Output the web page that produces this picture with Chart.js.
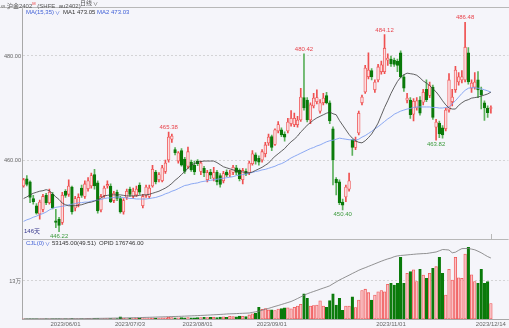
<!DOCTYPE html>
<html>
<head>
<meta charset="utf-8">
<script src="https://cdn.jsdelivr.net/npm/chart.js@4"></script>
<style>
  body { margin: 0; background: #f5f5fa; }
  #wrap { position: relative; width: 509px; height: 328px; overflow: hidden;
          font-family: "Liberation Sans", "Noto Sans CJK SC", sans-serif; font-size: 6px; }
  #wrap div { position: absolute; white-space: nowrap; line-height: 7px; }
  canvas { position: absolute; left: 0; top: 0; }
  .blue { color: #3f5fd6; }
  .dark { color: #333; }
  .arr { font-size: 5px; margin-left: 1px; }
</style>
</head>
<body>
<div id="wrap">
  <canvas id="c" width="509" height="328"></canvas>
  <div style="left:1px;top:0px;color:#555">∞ 沪金2402<sup style="color:#e33;font-size:4px">M</sup> (SHFE&nbsp; au2402)</div>
  <div style="left:80px;top:0px;color:#555">日线<span class="arr">∨</span></div>
  <div class="blue" style="left:26px;top:9px">MA(15,35)<span class="arr">∨</span></div>
  <div class="dark" style="left:63px;top:9px">MA1 473.05</div>
  <div class="blue" style="left:97px;top:9px">MA2 473.03</div>
  <div style="left:24px;top:228px;color:#35358a">146天</div>
  <div class="blue" style="left:26px;top:240px">CJL(0)<span class="arr">∨</span></div>
  <div class="dark" style="left:52px;top:240px">53145.00(49.51)</div>
  <div class="dark" style="left:99px;top:240px">OPID 176746.00</div>
</div>
<script>
// daily bars, 2023/05/15 .. 2023/12/14
const opens = [
  455.0, 456.4, 455.8, 452.6, 451.2, 449.6, 450.5, 453.2, 451.8, 453.4,
  448.3, 448.6, 448.0, 454.0, 453.4, 454.8, 450.8, 451.5, 454.6, 453.0,
  454.5, 455.0, 457.2, 455.6, 450.4, 453.2, 455.0, 455.0, 452.2, 453.8,
  452.6, 450.0, 452.8, 454.4, 453.0, 453.3, 455.2, 451.2, 453.2, 453.0,
  455.0, 457.7, 456.2, 456.0, 457.8, 460.0, 464.0, 462.0, 459.8, 461.8,
  460.2, 458.8, 459.6, 459.0, 459.8, 457.8, 458.4, 456.2, 457.7, 456.5,
  457.7, 457.0, 456.0, 457.7, 457.2, 457.6, 458.5, 458.0, 456.2, 457.8,
  457.6, 459.3, 461.0, 460.3, 460.0, 461.2, 463.3, 464.5, 463.0, 465.6,
  465.8, 465.0, 465.6, 467.0, 466.8, 466.8, 467.7, 472.0, 471.5, 467.7,
  470.4, 471.2, 469.4, 471.0, 472.4, 471.0, 466.0, 456.3, 455.8, 451.9,
  452.9, 454.4, 463.8, 462.4, 465.2, 471.0, 473.1, 476.0, 477.2, 473.5,
  475.4, 477.0, 477.0, 479.2, 479.4, 479.2, 479.0, 480.6, 476.0, 471.5,
  471.5, 468.8, 470.0, 471.5, 471.1, 473.6, 472.4, 474.0, 466.3, 467.1,
  466.2, 466.0, 469.6, 471.2, 473.5, 475.0, 475.4, 475.4, 480.6, 473.8,
  474.0, 475.4, 473.4, 471.0, 470.0, 469.9
];
const highs = [
  456.5, 457.0, 456.0, 453.2, 451.6, 452.3, 453.4, 453.6, 454.4, 453.8,
  450.5, 449.0, 453.8, 454.3, 456.2, 455.0, 453.0, 453.5, 455.2, 456.0,
  456.6, 457.5, 458.2, 456.0, 453.4, 455.0, 456.0, 455.4, 454.0, 454.2,
  453.0, 452.6, 454.4, 454.8, 454.6, 455.0, 455.6, 453.4, 455.2, 455.2,
  459.0, 458.0, 457.6, 459.0, 460.0, 465.38, 465.0, 462.4, 461.6, 462.2,
  460.5, 462.5, 460.0, 459.8, 460.1, 459.8, 458.8, 458.0, 458.2, 458.6,
  458.0, 457.4, 457.8, 458.1, 458.0, 459.0, 459.0, 458.3, 458.4, 458.3,
  459.8, 461.8, 461.4, 460.8, 462.0, 463.4, 465.0, 464.8, 466.0, 467.4,
  466.2, 465.4, 468.0, 469.5, 469.0, 468.4, 473.8, 480.42, 472.0, 471.0,
  472.8, 473.5, 471.6, 472.8, 473.0, 471.4, 466.4, 456.6, 456.2, 452.5,
  455.2, 457.5, 464.0, 464.4, 469.4, 472.5, 478.2, 480.6, 477.6, 475.4,
  478.4, 479.0, 484.12, 480.4, 480.0, 479.6, 479.4, 481.0, 476.4, 472.8,
  472.0, 471.8, 472.0, 472.2, 473.6, 475.4, 475.0, 474.4, 467.8, 467.5,
  466.6, 470.0, 476.6, 473.6, 478.0, 476.8, 477.2, 486.48, 481.6, 475.4,
  476.8, 477.0, 474.0, 471.4, 470.4, 470.4
];
const lows = [
  454.8, 455.0, 451.8, 451.5, 449.6, 448.6, 450.0, 451.4, 451.5, 450.6,
  447.0, 446.22, 447.6, 452.8, 453.0, 449.6, 450.2, 451.0, 452.8, 452.6,
  454.0, 454.6, 454.4, 449.8, 450.0, 452.8, 454.6, 451.8, 451.8, 452.2,
  449.8, 449.6, 452.4, 453.0, 452.6, 453.0, 453.4, 450.8, 452.8, 452.6,
  454.8, 455.4, 455.8, 455.8, 457.4, 459.6, 463.4, 461.0, 459.4, 458.8,
  457.4, 458.4, 457.8, 457.2, 458.9, 457.2, 456.8, 455.8, 456.4, 456.0,
  455.2, 454.8, 455.6, 456.8, 456.8, 457.2, 457.2, 456.0, 455.4, 457.0,
  457.2, 459.0, 459.2, 459.0, 459.6, 460.6, 462.8, 461.8, 462.8, 465.2,
  464.5, 463.6, 465.2, 466.5, 466.4, 466.3, 467.4, 469.6, 467.3, 467.0,
  470.0, 470.8, 469.0, 470.6, 470.8, 467.0, 455.2, 453.3, 451.4, 450.40,
  452.0, 454.0, 460.9, 462.0, 464.8, 470.6, 472.8, 475.6, 475.4, 473.0,
  475.0, 476.5, 476.6, 478.2, 478.0, 478.0, 477.0, 475.8, 473.2, 471.0,
  468.0, 467.5, 469.6, 468.6, 470.6, 471.2, 472.0, 467.8, 463.82, 464.3,
  464.2, 465.6, 469.2, 470.4, 473.0, 474.4, 474.8, 475.0, 474.6, 473.0,
  473.6, 472.0, 469.8, 467.6, 468.2, 469.0
];
const closes = [
  456.2, 455.3, 452.8, 452.0, 449.8, 451.9, 453.0, 451.8, 453.8, 450.8,
  448.0, 447.4, 453.2, 453.2, 455.0, 450.0, 452.6, 452.8, 453.2, 455.4,
  456.0, 457.0, 455.0, 450.2, 453.0, 454.6, 455.3, 452.0, 453.6, 452.6,
  450.0, 452.2, 454.0, 453.4, 454.0, 454.4, 453.8, 453.0, 454.8, 454.6,
  458.2, 455.8, 457.2, 458.5, 459.4, 464.4, 464.6, 461.4, 461.4, 459.0,
  457.8, 461.6, 458.1, 457.7, 459.3, 459.4, 457.5, 457.6, 457.1, 457.6,
  455.8, 455.3, 457.4, 457.1, 457.4, 458.6, 457.6, 456.4, 458.0, 457.3,
  459.4, 461.2, 459.8, 459.6, 461.6, 462.9, 464.4, 462.4, 465.8, 466.8,
  464.8, 464.4, 467.3, 468.0, 468.0, 467.7, 472.1, 470.0, 467.7, 470.6,
  471.9, 472.0, 471.0, 471.9, 471.0, 467.5, 460.0, 455.6, 451.8, 451.3,
  454.8, 456.0, 462.4, 463.6, 469.0, 472.1, 477.7, 477.3, 476.0, 475.0,
  477.9, 478.3, 481.5, 479.6, 478.5, 478.4, 478.2, 476.0, 473.8, 471.9,
  468.7, 471.3, 471.4, 469.0, 473.0, 471.6, 474.4, 468.2, 467.3, 465.0,
  464.8, 469.6, 475.4, 472.1, 477.3, 476.0, 476.0, 481.7, 475.0, 474.8,
  475.0, 473.5, 472.5, 470.0, 469.1, 470.0
];
// MA(15) and MA(35)
const ma1 = [
  452.6, 452.9, 453.3, 453.6, 453.8, 454.0, 454.1, 454.3, 454.1, 453.5,
  452.9, 452.4, 451.7, 451.4, 451.2, 451.2, 451.2, 451.3, 451.4, 451.6,
  451.8, 451.9, 452.1, 452.3, 452.7, 453.1, 453.2, 453.3, 453.3, 453.3,
  453.3, 453.2, 453.1, 453.1, 453.1, 453.1, 453.2, 453.3, 453.3, 453.4,
  453.6, 453.8, 454.0, 454.3, 454.6, 455.0, 455.5, 456.1, 456.6, 457.2,
  457.8, 458.4, 459.0, 459.3, 459.6, 459.7, 459.8, 459.8, 459.8, 459.8,
  459.5, 459.1, 458.7, 458.5, 458.3, 458.1, 457.9, 457.8, 457.7, 457.6,
  457.5, 457.7, 458.0, 458.3, 458.6, 459.0, 459.4, 460.1, 460.7, 461.2,
  461.7, 462.2, 462.9, 463.5, 464.0, 464.6, 465.4, 466.0, 466.7, 467.2,
  467.7, 468.1, 468.4, 468.7, 469.0, 469.2, 468.9, 468.7, 467.6, 466.7,
  465.8, 464.9, 464.2, 463.7, 463.4, 463.3, 463.7, 464.3, 465.0, 466.0,
  467.1, 468.6, 470.1, 471.4, 472.8, 474.0, 475.1, 475.9, 476.4, 476.7,
  476.6, 476.5, 476.3, 475.8, 475.2, 474.8, 474.3, 473.7, 473.1, 472.3,
  471.4, 470.6, 470.0, 469.8, 469.8, 470.5, 471.0, 471.4, 471.6, 471.9,
  472.0, 472.1, 472.3, 472.5, 472.7, 473.05
];
const ma2 = [
  448.2, 448.5, 448.7, 449.0, 449.2, 449.5, 449.7, 450.0, 450.4, 450.7,
  450.9, 451.0, 451.1, 451.2, 451.4, 451.5, 451.6, 451.8, 451.8, 451.9,
  451.9, 452.1, 452.2, 452.3, 452.4, 452.6, 452.7, 452.7, 452.8, 452.9,
  452.8, 452.8, 452.7, 452.6, 452.6, 452.5, 452.5, 452.5, 452.5, 452.6,
  452.7, 452.8, 453.0, 453.2, 453.5, 453.7, 454.0, 454.2, 454.5, 454.8,
  455.1, 455.2, 455.4, 455.5, 455.6, 455.8, 455.9, 456.0, 456.1, 456.2,
  456.3, 456.4, 456.5, 456.6, 456.7, 456.8, 457.0, 457.1, 457.2, 457.3,
  457.5, 457.6, 457.8, 457.9, 458.1, 458.2, 458.4, 458.6, 458.8, 459.1,
  459.3, 459.6, 460.0, 460.4, 460.7, 461.0, 461.3, 461.6, 461.9, 462.2,
  462.4, 462.7, 462.9, 463.2, 463.5, 463.7, 463.8, 464.0, 464.2, 464.1,
  464.0, 463.9, 463.9, 463.8, 464.0, 464.4, 464.7, 465.1, 465.5, 466.0,
  466.4, 466.9, 467.4, 467.9, 468.3, 468.8, 469.1, 469.4, 469.6, 469.8,
  469.9, 470.1, 470.2, 470.2, 470.2, 470.2, 470.2, 470.1, 470.1, 470.0,
  470.0, 470.1, 470.2, 470.8, 471.4, 472.1, 472.8, 473.4, 473.8, 473.9,
  473.9, 473.8, 473.7, 473.5, 473.3, 473.03
];
const volumes = [
  400, 300, 500, 400, 600, 500, 400, 600, 500, 700, 800, 900, 700,
  600, 800, 1200, 700, 900, 1000, 800, 1100, 900, 1200, 1500, 1000, 1300, 1100, 1400, 1600, 1200,
  7000,
  2000, 1800, 2500, 2200, 1900, 2600, 3000, 2400, 2800, 3500, 3000, 3200,
  3600, 4200, 6000, 4500, 3800, 4000, 5000, 4200, 4800, 3900, 4400, 5200, 4600, 6000, 4800, 5400, 6200, 5000,
  6500, 7500, 6000, 9000, 8000, 7000, 10000, 9500, 8500, 14000, 18000, 20000,
  40000, 33000, 36000, 31000, 31000, 29000, 34000, 36000, 38000, 38000, 35000,
  40000, 44000, 50000, 86000, 71000, 44000, 46000, 48000, 62000, 44000, 40000,
  63000, 86000, 48000, 71000, 30000, 44000, 44000, 76000, 39000, 65000,
  97000, 102000, 90000, 65000, 82000, 93000, 97000, 93000, 119000, 122000,
  116000, 122000, 211000, 122000, 156000, 162000, 168000, 128000, 170000, 150000,
  139000, 156000, 173000, 179000, 211000, 156000, 82000, 170000, 133000, 211000,
  141000, 139000, 222000, 245000, 151000, 128000, 122000, 170000, 122000, 128000,
  53145
];
const openInterest = [
  500, 550, 600, 600, 650, 700, 700, 750, 800, 800, 850, 900, 900, 950, 1000, 1000, 1050, 1100, 1100,
  1200,
  1400, 1500, 1600, 1800, 1900, 2000, 2200, 2300, 2500, 2700, 2900,
  3100, 3300, 3500, 3700, 3900, 4200, 4400, 4700, 4900, 5200, 5500, 5800,
  6100, 6400, 6700, 7000, 7300, 7600, 7900, 8300, 8700,
  9100, 9500, 9900, 10300, 10700, 11200, 11700, 12200, 12700, 13200, 13800, 14500,
  15000, 15300, 15700, 16100, 16500, 16900, 17400,
  19100, 20900, 22600, 25500, 28100, 30700, 33600, 36500, 39100, 42000,
  44900, 47800, 50700, 54800, 59400, 64000, 68700, 73000, 76500, 79700,
  82900, 86300, 89500, 92700, 96200, 102000, 107500, 113000, 117600, 122300,
  126900, 131800, 136400, 141100, 145100, 148600, 152400, 156100, 159900, 163700,
  167400, 170900, 174100, 176700, 180500, 182800, 184000, 184800, 185700, 186600,
  187400, 188300, 188900, 189500, 189700, 191200, 192700, 194100, 197600, 201300,
  200800, 199900, 191800, 193500, 199000, 203900, 204200, 204200, 202500, 200500,
  196400, 191800, 186300, 180800, 176746
];
const tickIdx = [13, 33, 54, 77, 114, 145];
const tickText = ['2023/06/01', '2023/07/03', '2023/08/01', '2023/09/01', '2023/11/01', '2023/12/14'];
const priceTicks = [460, 480];
// bars whose high / low gets a price label
const markIdx = [45, 87, 112, 137, 11, 99, 128];
const markHigh = [true, true, true, true, false, false, false];

const SLOTS = 151; // 146 bars + empty room on the right
const labels = Array.from({length: SLOTS}, (_, i) => i);

const UP = '#ef5050', UP_FILL = '#fcdde0', DN = '#0a7a0a', DN_WICK = '#5bb05b';
const VUP_FILL = '#f9c2c6';
const isUp = opens.map((o, i) => closes[i] >= o);
const FONT = '"Liberation Sans", "Noto Sans CJK SC", sans-serif';

Chart.defaults.font.family = FONT;
Chart.defaults.font.size = 6;

const decor = {
  id: 'decor',
  afterDraw(chart) {
    const {ctx, chartArea, scales} = chart;
    const x = scales.x, y = scales.y, yv = scales.yv;
    ctx.save();
    ctx.strokeStyle = '#b8b8b8';
    ctx.lineWidth = 1;
    ctx.beginPath();
    ctx.moveTo(0, 7.5); ctx.lineTo(509, 7.5);
    ctx.moveTo(chartArea.left, Math.round(yv.top) + 0.5);
    ctx.lineTo(chartArea.right, Math.round(yv.top) + 0.5);
    ctx.moveTo(chartArea.left + 0.5, 7); ctx.lineTo(chartArea.left + 0.5, 9);
    const lx = Math.round(x.getPixelForValue(opens.length - 1)) + 0.5;
    ctx.moveTo(lx, yv.top - 5); ctx.lineTo(lx, yv.top);
    ctx.stroke();

    ctx.font = '6px ' + FONT;
    ctx.textAlign = 'center';
    markIdx.forEach((i, k) => {
      const px = x.getPixelForValue(i);
      if (markHigh[k]) {
        ctx.fillStyle = '#e8454d';
        ctx.textBaseline = 'bottom';
        ctx.fillText(highs[i].toFixed(2), px, y.getPixelForValue(highs[i]) - 1.5);
      } else {
        ctx.fillStyle = '#3c9a3c';
        ctx.textBaseline = 'top';
        ctx.fillText(lows[i].toFixed(2), px, y.getPixelForValue(lows[i]) + 1.5);
      }
    });
    ctx.restore();
  }
};

new Chart(document.getElementById('c'), {
  type: 'bar',
  data: {
    labels: labels,
    datasets: [
      {
        label: 'MA1', type: 'line', yAxisID: 'y', order: 0,
        data: ma1, borderColor: '#3a3a3a', borderWidth: 0.8, pointRadius: 0, tension: 0
      },
      {
        label: 'MA2', type: 'line', yAxisID: 'y', order: 0,
        data: ma2, borderColor: '#7f9ff2', borderWidth: 0.9, pointRadius: 0, tension: 0
      },
      {
        label: 'body', yAxisID: 'y', order: 1, grouped: false,
        data: opens.map((o, i) => [o, closes[i]]),
        backgroundColor: isUp.map(u => u ? UP_FILL : DN),
        borderColor: isUp.map(u => u ? UP : DN),
        borderWidth: 0.8, borderSkipped: false, barThickness: 2.7, minBarLength: 1
      },
      {
        label: 'wick', yAxisID: 'y', order: 2, grouped: false,
        data: lows.map((l, i) => [l, highs[i]]),
        backgroundColor: isUp.map(u => u ? UP : DN_WICK),
        borderWidth: 0, barThickness: 1
      },
      {
        label: 'CJL', yAxisID: 'yv', order: 1, grouped: false,
        data: volumes,
        backgroundColor: isUp.map(u => u ? VUP_FILL : DN),
        borderColor: isUp.map(u => u ? UP : DN),
        borderWidth: 0.8, borderSkipped: false, barThickness: 2.6
      },
      {
        label: 'OPID', type: 'line', yAxisID: 'yo', order: 0,
        data: openInterest, borderColor: '#777', borderWidth: 0.8, pointRadius: 0, tension: 0
      }
    ]
  },
  options: {
    responsive: false,
    animation: false,
    devicePixelRatio: 1,
    events: [],
    layout: { padding: { top: 8, left: 0, right: 0, bottom: 0 } },
    plugins: { legend: { display: false }, tooltip: { enabled: false } },
    scales: {
      x: {
        type: 'category',
        offset: true,
        grid: { display: false, drawTicks: false },
        border: { display: true, color: '#a8a8a8' },
        ticks: {
          autoSkip: false, maxRotation: 0, padding: 2, color: '#666',
          callback: (v, i) => {
            const k = tickIdx.indexOf(i);
            return k < 0 ? '' : tickText[k];
          }
        },
        afterFit: s => { s.height = 9; }
      },
      y: {
        position: 'left', stack: 'panels', stackWeight: 231, weight: 1,
        min: 444.81, max: 489.23,
        afterBuildTicks: a => { a.ticks = priceTicks.map(v => ({value: v})); },
        ticks: { padding: 1, color: '#666', font: { size: 5.6 }, callback: v => Number(v).toFixed(2) },
        grid: { color: '#c6c6c6', lineWidth: 0.7, drawTicks: false },
        border: { display: true, color: '#a8a8a8', dash: [2, 2] },
        afterFit: s => { s.width = 22; }
      },
      yv: {
        position: 'left', stack: 'panels', stackWeight: 80, weight: 0,
        min: 0, max: 273684,
        afterBuildTicks: a => { a.ticks = [{value: 130000}]; },
        ticks: { padding: 1, color: '#666', font: { size: 5.6 }, callback: () => '13万' },
        grid: { color: '#c6c6c6', lineWidth: 0.7, drawTicks: false },
        border: { display: true, color: '#a8a8a8', dash: [2, 2] },
        afterFit: s => { s.width = 22; }
      },
      yo: { position: 'right', display: false, min: 0, max: 901000 }
    }
  },
  plugins: [decor]
});
</script>
</body>
</html>
